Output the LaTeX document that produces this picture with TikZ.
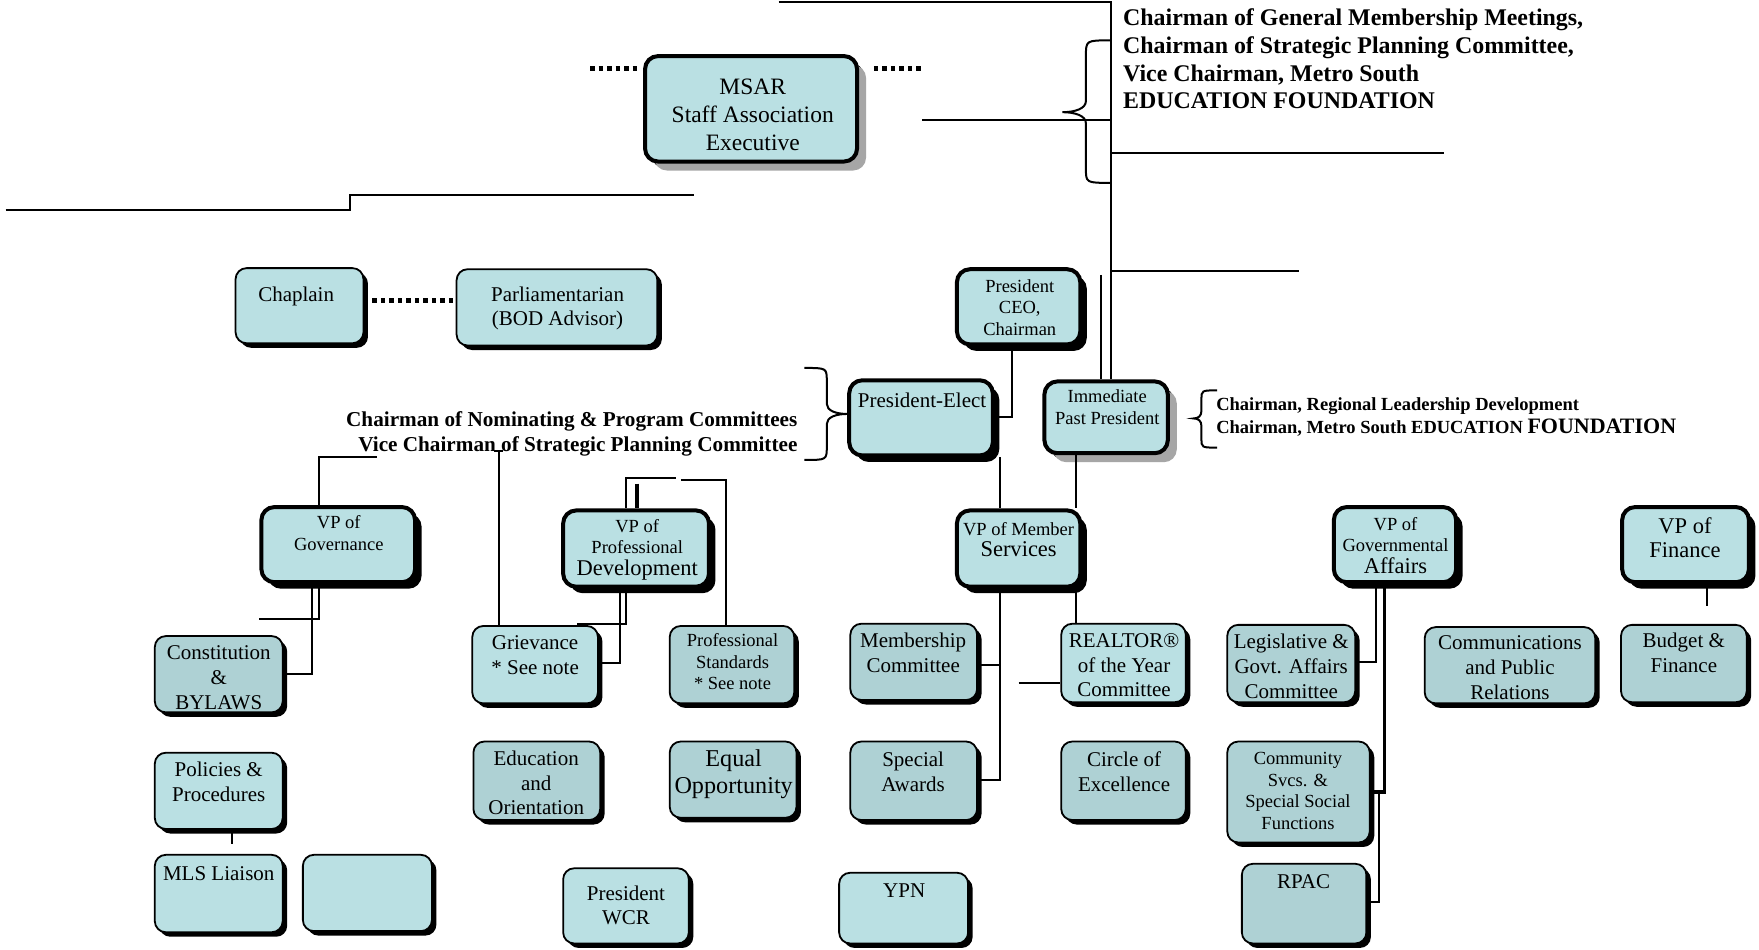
\documentclass[tikz,border=0pt]{standalone}
\usepackage{fontspec}
\setmainfont{Liberation Serif}
\usetikzlibrary{fit,shadows}
\definecolor{lf}{RGB}{186,224,227}
\definecolor{df}{RGB}{174,209,212}
\newcommand\fntN{\fontsize{21}{24.7}\selectfont}
\newcommand\fntS{\fontsize{18.5}{21.5}\selectfont}
\newcommand\fntM{\fontsize{22.5}{24}\selectfont}
\newcommand\fntL{\fontsize{23.5}{28}\selectfont}
\newcommand\fntXL{\fontsize{24.2}{27}\selectfont}
\newcommand\fntNa{\bfseries\fontsize{23.9}{27.5}\selectfont}
\newcommand\fntNb{\bfseries\fontsize{21.2}{24.7}\selectfont}
\newcommand\fntNc{\bfseries\fontsize{18.5}{23.6}\selectfont}
\tikzset{
 thickbox/.style={draw=black, line width=4pt, rounded corners=13pt, fill=lf, inner sep=0pt,
   drop shadow={shadow xshift=6.5pt, shadow yshift=-6.5pt, opacity=1, fill=black}},
 grayshadow/.style={drop shadow={shadow xshift=9pt, shadow yshift=-9pt, opacity=1, fill=gray!70}},
 thinbox/.style={draw=black, line width=1.8pt, rounded corners=11pt, fill=lf, inner sep=0pt,
   drop shadow={shadow xshift=4.5pt, shadow yshift=-4.5pt, opacity=1, fill=black}},
 dk/.style={fill=df},
 txt/.style={inner sep=0pt, align=center, font=\fntN},
 conn/.style={draw=black, line width=2pt},
 dotline/.style={draw=black, line width=4.5pt, dash pattern=on 4.5pt off 4pt},
 note/.style={inner sep=0pt}
}
\begin{document}
\begin{tikzpicture}[x=1.1218pt, y=-1.1218pt]
\fill[white] (0,0) rectangle (1568,846);
\useasboundingbox (0,0) rectangle (1568,846);

% ---------- boxes ----------
\node[thickbox, grayshadow, fit={(575,50) (764,144)}] (msar) {};
\node[thickbox, fit={(853,240) (963,307)}] (pres) {};
\node[thickbox, fit={(757,339) (885,406)}] (pe) {};
\node[thickbox, grayshadow, fit={(931,340) (1041,404)}] (ipp) {};
\node[thickbox, fit={(233,452) (370,519)}] (vpgov) {};
\node[thickbox, fit={(502,455) (632,523)}] (vppd) {};
\node[thickbox, fit={(853,455) (963,523)}] (vpms) {};
\node[thickbox, fit={(1189,452) (1298,519)}] (vpga) {};
\node[thickbox, fit={(1446,452) (1559,519)}] (vpf) {};

\node[thinbox, fit={(210,239) (324,306)}] (chap) {};
\node[thinbox, fit={(407,240) (586,308)}] (parl) {};
\node[thinbox, dk, fit={(138,567) (252,635)}] (con) {};
\node[thinbox, fit={(138,671) (252,739)}] (pol) {};
\node[thinbox, fit={(138,762) (252,831)}] (mls) {};
\node[thinbox, fit={(270,762) (385,830)}] (emp) {};
\node[thinbox, fit={(421,558) (533,627)}] (grv) {};
\node[thinbox, dk, fit={(597,558) (708,627)}] (ps) {};
\node[thinbox, dk, fit={(422,661) (535,731)}] (edu) {};
\node[thinbox, dk, fit={(597,661) (710,729)}] (eq) {};
\node[thinbox, fit={(502,774) (614,841)}] (wcr) {};
\node[thinbox, dk, fit={(758,556) (871,624)}] (mem) {};
\node[thinbox, fit={(946,556) (1057,626)}] (roy) {};
\node[thinbox, dk, fit={(758,661) (871,731)}] (sa) {};
\node[thinbox, dk, fit={(946,661) (1057,731)}] (coe) {};
\node[thinbox, fit={(748,778) (863,841)}] (ypn) {};
\node[thinbox, dk, fit={(1094,557) (1208,626)}] (leg) {};
\node[thinbox, dk, fit={(1270,559) (1422,627)}] (com) {};
\node[thinbox, dk, fit={(1445,557) (1557,626)}] (bud) {};
\node[thinbox, dk, fit={(1094,661) (1221,751)}] (css) {};
\node[thinbox, dk, fit={(1107,770) (1218,841)}] (rpac) {};

% ---------- connectors ----------
\coordinate (tl) at (694,2);
\draw[conn] (tl) -- (990,2) -- (990,0 |- ipp.north);
\draw[conn] (990,242) -- (1158,242);
\draw[conn] (981,245) -- (981,0 |- ipp.north);
\draw[conn] (822,107) -- (990,107);
\draw[conn] (990,136) -- (1287,136);
\draw[conn] (5,187) -- (312,187) -- (312,174) -- (619,174);
\draw[dotline] (526,61) -- (569,61);
\draw[dotline] (779,61) -- (823,61);
\draw[dotline, shorten <=8pt] (chap.east |- 0,268) -- (parl.west |- 0,268);
% braces
\draw[conn] (990,36) .. controls (968,36) .. (968,50) -- (968,90) .. controls (968,97) and (958,100) .. (947,100)
  .. controls (958,100) and (968,103) .. (968,110) -- (968,150) .. controls (968,163) .. (990,163);
\draw[conn] (717,328) .. controls (737,328) .. (737,340) -- (737,360) .. controls (737,366) and (745,369) .. (pe.west |- 0,369)
  .. controls (745,369) and (737,372) .. (737,378) -- (737,398) .. controls (737,410) .. (717,410);
\draw[conn] (1085,348) .. controls (1071,348) .. (1071,356) -- (1071,366) .. controls (1071,371) and (1068,373) .. (1064,373)
  .. controls (1068,373) and (1071,375) .. (1071,380) -- (1071,391) .. controls (1071,399) .. (1085,399);
% president
\draw[conn] (pres.south -| 902,0) -- (902,372) -- (pe.east |- 0,372);
\draw[conn] (pe.south -| 891,0) -- (891,0 |- vpms.north);
\draw[conn] (ipp.south -| 959,0) -- (959,0 |- vpms.north);
% member services
\draw[conn] (vpms.south -| 891,0) -- (891,695) -- (sa.east |- 0,695);
\draw[conn] (891,593) -- (mem.east |- 0,593);
\draw[conn] (vpms.south -| 959,0) -- (959,0 |- roy.north);
\coordinate (stray) at (908,609);
\draw[conn] (stray) -- (roy.west |- stray);
% governmental affairs
\draw[conn] (vpga.south -| 1227,0) -- (1227,590) -- (leg.east |- 0,590);
\draw[conn, line width=3.2pt] (vpga.south -| 1234,0) -- (1234,706) -- (css.east |- 0,706);
\draw[conn] (1229,706) -- (1229,804) -- (rpac.east |- 0,804);
% finance
\draw[conn] (vpf.south -| 1522,0) -- (1522,540);
% governance
\draw[conn] (336,407) -- (284,407) -- (284,0 |- vpgov.north);
\draw[conn] (vpgov.south -| 284,0) -- (284,552) -- (231,552);
\draw[conn] (vpgov.south -| 278,0) -- (278,601) -- (con.east |- 0,601);
% grievance
\draw[conn] (440,402) -- (448,402);
\draw[conn] (445,402) -- (445,0 |- grv.north);
% professional development
\draw[conn] (vppd.north -| 558,0) -- (558,426) -- (603,426);
\draw[conn] (607,427.5) -- (647,427.5) -- (647,0 |- ps.north);
\draw[conn, line width=4.5pt] (568,431) -- (568,0 |- vppd.north);
\draw[conn] (vppd.south -| 558,0) -- (558,556) -- (514,556);
\draw[conn] (vppd.south -| 553,0) -- (553,591) -- (grv.east |- 0,591);
% policies
\draw[conn] (pol.south -| 207,0) -- (207,752);

% ---------- texts ----------
\node[txt, font=\fntL] (msarT) at (671,102) {MSAR\\Staff Association\\Executive};
\node[txt, font=\fntS] (presT) at (909,274) {President\\CEO,\\Chairman};
\node[txt] (peT) at (822,357) {President-Elect};
\node[txt, font=\fntS] (ippT) at (987,363) {Immediate\\Past President};
\node[txt, font=\fntS] (vpgovT) at (302,475) {VP of\\Governance};
\node[txt, font=\fntS] (vppdT) at (568,490) {VP of\\Professional\\{\fntM Development}};
\node[txt, font=\fntS] (vpmsT) at (908,481) {VP of Member\\{\fntM Services}};
\node[txt, font=\fntS] (vpgaT) at (1244,486) {VP of\\Governmental\\{\fntM Affairs}};
\node[txt, font=\fntM] (vpfT) at (1502,479) {VP of\\Finance};

\node[txt] (chapT) at (264,264) {Chaplain};
\node[txt] (parlT) at (497,275) {Parliamentarian\\(BOD Advisor)};
\node[txt] (conT) at (195,604) {Constitution\\\&\\BYLAWS};
\node[txt] (polT) at (195,697) {Policies \&\\Procedures};
\node[txt] (mlsT) at (195,779) {MLS Liaison};
\node[txt] (grvT) at (477,584) {Grievance\\* See note};
\node[txt, font=\fntS] (psT) at (653,590) {Professional\\Standards\\* See note};
\node[txt] (eduT) at (478,698) {Education\\and\\Orientation};
\node[txt, font=\fntXL] (eqT) at (654,690) {Equal\\Opportunity};
\node[txt] (wcrT) at (558,807) {President\\WCR};
\node[txt] (memT) at (814,582) {Membership\\Committee};
\node[txt] (royT) at (1002,593) {REALTOR®\\of the Year\\Committee};
\node[txt] (saT) at (814,688) {Special\\Awards};
\node[txt] (coeT) at (1002,688) {Circle of\\Excellence};
\node[txt] (ypnT) at (806,794) {YPN};
\node[txt] (legT) at (1151,594) {Legislative \&\\Govt. Affairs\\Committee};
\node[txt] (comT) at (1346,595) {Communications\\and Public\\Relations};
\node[txt] (budT) at (1501,582) {Budget \&\\Finance};
\node[txt, font=\fntS] (cssT) at (1157,705) {Community\\Svcs. \&\\Special Social\\Functions};
\node[txt] (rpacT) at (1162,786) {RPAC};

\node[note, font=\fntNa, align=left, anchor=north west] (noteA) at (1001,8)
  {Chairman of General Membership Meetings,\\Chairman of Strategic Planning Committee,\\Vice Chairman, Metro South\\EDUCATION FOUNDATION};
\node[note, font=\fntNb, align=right, anchor=north east] (noteB) at (711,367)
  {Chairman of Nominating \& Program Committees\\Vice Chairman of Strategic Planning Committee};
\node[note, font=\fntNc, align=left, anchor=north west] (noteC) at (1084,354)
  {Chairman, Regional Leadership Development\\Chairman, Metro South EDUCATION {\fontsize{22}{24}\selectfont FOUNDATION}};
\end{tikzpicture}
\end{document}
